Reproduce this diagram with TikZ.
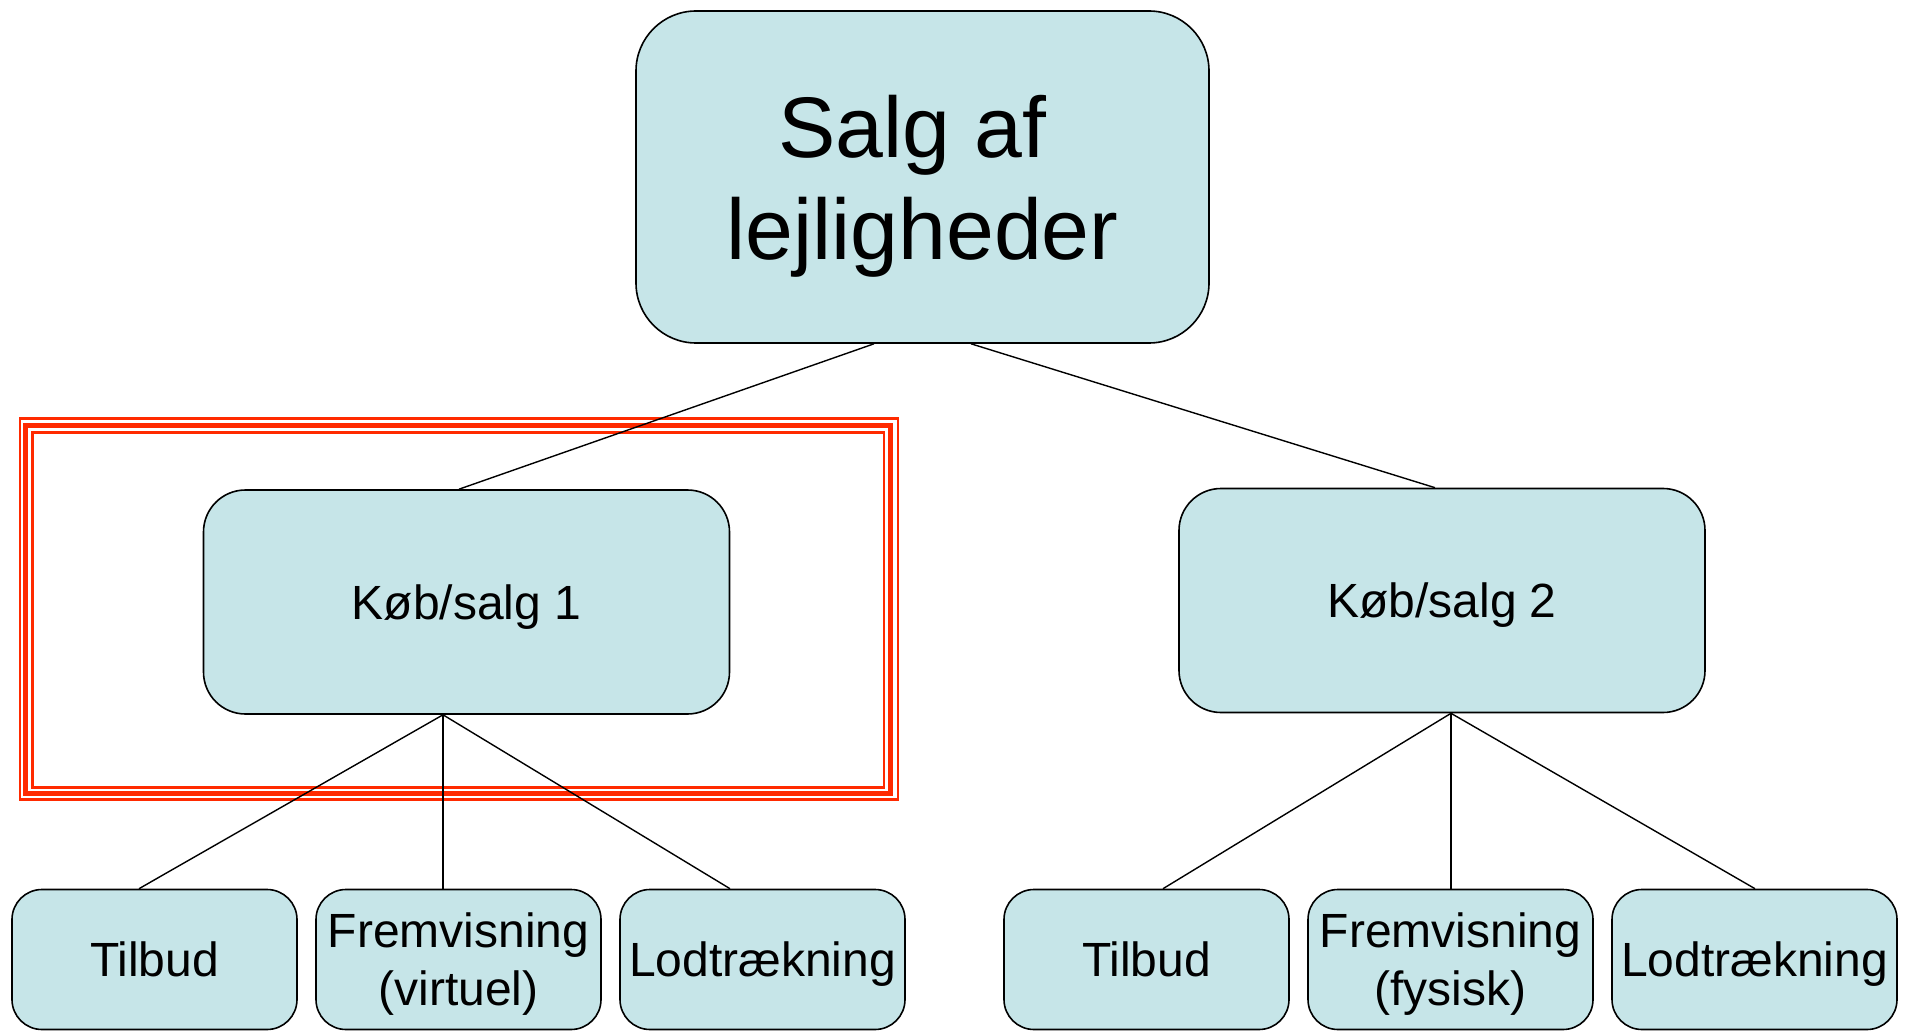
\documentclass[tikz,border=0pt]{standalone}
\usepackage{fontspec}
\setmainfont{Liberation Sans}
\definecolor{boxfill}{HTML}{C6E5E8}
\definecolor{framered}{HTML}{FF2A00}
\begin{document}
\begin{tikzpicture}[x=1pt,y=-1pt,
  box/.style={draw=black,line width=1.6pt,fill=boxfill,inner sep=0pt,align=center,text depth=0pt},
  topbox/.style={box,rounded corners=60pt,minimum width=573pt,minimum height=332pt,font=\fontsize{86}{102}\selectfont},
  midbox/.style={box,rounded corners=42pt,minimum width=526pt,minimum height=224pt,font=\fontsize{48}{58}\selectfont},
  leafbox/.style={box,rounded corners=30pt,minimum width=285pt,minimum height=140pt,font=\fontsize{48}{58}\selectfont},
  conn/.style={draw=black,line width=1.4pt},
  redline/.style={draw=framered}]
\useasboundingbox (0,0) rectangle (1907,1032);
\fill[white] (0,0) rectangle (1907,1032);
% red triple frame
\draw[redline,line width=2.4pt] (20,418.5) rectangle (898,799.5);
\draw[redline,line width=5pt] (25.8,425.5) rectangle (890.5,793);
\draw[redline,line width=2.6pt] (32.2,432.5) rectangle (884,787.3);
% nodes
\node[topbox] (top) at (922.5,177) {Salg af\kern20pt\\lejligheder};
\node[midbox] (k1) at (466.5,602) {Køb/salg 1};
\node[midbox] (k2) at (1442,600.5) {Køb/salg 2};
\node[leafbox] (a1) at (154.5,959.5) {Tilbud};
\node[leafbox] (a2) at (458.5,959.5) {Fremvisning\\(virtuel)};
\node[leafbox] (a3) at (762.5,959.5) {Lodtrækning};
\node[leafbox] (b1) at (1146.5,959.5) {Tilbud};
\node[leafbox] (b2) at (1450.5,959.5) {Fremvisning\\(fysisk)};
\node[leafbox] (b3) at (1754.5,959.5) {Lodtrækning};
% connectors
\draw[conn] (874,0 |- top.south) -- (459,0 |- k1.north);
\draw[conn] (971,0 |- top.south) -- (1435,0 |- k2.north);
\draw[conn] (443,0 |- k1.south) -- (139,0 |- a1.north);
\draw[conn] (443,0 |- k1.south) -- (443,0 |- a2.north);
\draw[conn] (443,0 |- k1.south) -- (730,0 |- a3.north);
\draw[conn] (1451,0 |- k2.south) -- (1163,0 |- b1.north);
\draw[conn] (1451,0 |- k2.south) -- (1451,0 |- b2.north);
\draw[conn] (1451,0 |- k2.south) -- (1755,0 |- b3.north);
\end{tikzpicture}
\end{document}
